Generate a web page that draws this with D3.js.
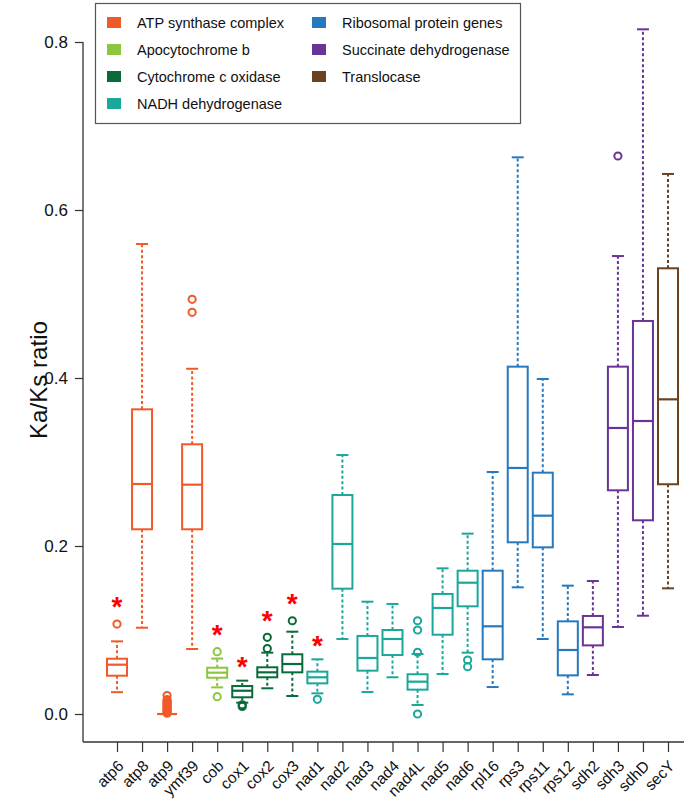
<!DOCTYPE html>
<html><head><meta charset="utf-8">
<script src="https://cdn.jsdelivr.net/npm/d3@7"></script>
<style>body{margin:0;background:#fff}svg{display:block}</style>
</head><body>
<svg id="c" width="685" height="801"></svg>
<script>
const genes = ["atp6","atp8","atp9","ymf39","cob","cox1","cox2","cox3","nad1","nad2","nad3","nad4","nad4L","nad5","nad6","rpl16","rps3","rps11","rps12","sdh2","sdh3","sdhD","secY"];
const geneGroup = [0,0,0,0,1,2,2,2,3,3,3,3,3,3,3,4,4,4,4,5,5,5,6];
const groupNames = ["ATP synthase complex","Apocytochrome b","Cytochrome c oxidase","NADH dehydrogenase","Ribosomal protein genes","Succinate dehydrogenase","Translocase"];
const groupColors = ["#F05A28","#8CC63F","#0A6B3A","#1BA89B","#2779BF","#6A3497","#6B4220"];
const whiskerLow  = [0.026,0.1027,0,0.0774,0.0317,0.0135,0.0306,0.0214,0.0246,0.0893,0.0262,0.0437,0.0107,0.0476,0.073,0.0321,0.1508,0.0893,0.0234,0.0464,0.1036,0.117,0.1496];
const quart1      = [0.0456,0.2199,0,0.2199,0.0432,0.0199,0.0437,0.0496,0.0365,0.1492,0.0516,0.0702,0.029,0.0944,0.1282,0.0651,0.2044,0.1984,0.046,0.0817,0.2663,0.2306,0.2735];
const medians     = [0.0587,0.2738,0,0.273,0.0492,0.0277,0.0496,0.0595,0.0437,0.2024,0.0667,0.0893,0.0385,0.1262,0.1563,0.1044,0.2929,0.2361,0.0762,0.1032,0.3405,0.3488,0.3746];
const quart3      = [0.0658,0.3627,0,0.3211,0.0551,0.0333,0.0556,0.0711,0.0504,0.2607,0.0929,0.1,0.0473,0.1429,0.1706,0.1706,0.4135,0.2873,0.1103,0.1167,0.4135,0.4679,0.5306];
const whiskerHigh = [0.0865,0.5595,0,0.411,0.066,0.0397,0.073,0.098,0.0651,0.3083,0.1337,0.131,0.0714,0.1734,0.2147,0.2881,0.6627,0.3988,0.1528,0.1583,0.5452,0.8151,0.6429];
const outliers = [
  [0.107],
  [],
  [0.022,0.017,0.0155,0.014,0.0125,0.011,0.0095,0.008,0.0065,0.005,0.0035,0.002,0.001],
  [0.4937,0.4782],
  [0.0742,0.0206],
  [0.011,0.009],
  [0.078,0.0913],
  [0.111],
  [0.0175],
  [],[],[],
  [0.111,0.1,0.0734,0.0],
  [],
  [0.0643,0.0563],
  [],[],[],[],[],
  [0.6643],
  [],[]
];
const starGenes  = ["atp6","cob","cox1","cox2","cox3","nad1"];
const starValues = [0.134,0.1008,0.0634,0.1179,0.138,0.0881];
const yTicks = [0,0.2,0.4,0.6,0.8];

const svg = d3.select("#c");
const FONT = "'Liberation Sans', Arial, Helvetica, sans-serif";
const x = d3.scalePoint().domain(genes).range([117,668]);
const y = d3.scaleLinear().domain([0,0.8]).range([714,42]);
const boxW = 20, capW = 12;
const col = i => groupColors[geneGroup[i]];

// axes lines (L-shaped frame)
svg.append("line").attr("x1",83).attr("x2",83).attr("y1",y(0.8)).attr("y2",742).attr("stroke","#333").attr("stroke-width",1.3);
svg.append("line").attr("x1",83).attr("x2",684).attr("y1",742).attr("y2",742).attr("stroke","#333").attr("stroke-width",1.3);

const ya = svg.append("g").attr("transform","translate(83,0)")
  .call(d3.axisLeft(y).tickValues(yTicks).tickFormat(d3.format(".1f")).tickSize(8).tickPadding(7));
ya.select(".domain").remove();
ya.selectAll("line").attr("stroke","#333").attr("stroke-width",1.2);
ya.selectAll("text").attr("font-family",FONT).attr("font-size",17).attr("fill","#111");

const xa = svg.append("g").attr("transform","translate(0,742)")
  .call(d3.axisBottom(x).tickSize(10));
xa.select(".domain").remove();
xa.selectAll("line").attr("stroke","#333").attr("stroke-width",1.2);
xa.selectAll("text").attr("font-family",FONT).attr("font-size",15.5).attr("fill","#111")
  .attr("text-anchor","end").attr("y",0).attr("dy",0)
  .attr("transform","translate(7,25) rotate(-45)");

svg.append("text").attr("transform","translate(47,380) rotate(-90)")
  .attr("text-anchor","middle").attr("font-family","'Liberation Sans Narrow','Arial Narrow','Liberation Sans',Arial,sans-serif")
  .attr("font-size",24).attr("textLength",118).attr("lengthAdjust","spacingAndGlyphs")
  .attr("fill","#111").text("Ka/Ks ratio");

// boxes
const g = svg.append("g");
genes.forEach((gn,i)=>{
  const cx = x(gn), c = col(i);
  const gg = g.append("g");
  gg.append("line").attr("x1",cx).attr("x2",cx).attr("y1",y(quart3[i])).attr("y2",y(whiskerHigh[i]))
    .attr("stroke",c).attr("stroke-width",2).attr("stroke-dasharray","3,2.4");
  gg.append("line").attr("x1",cx).attr("x2",cx).attr("y1",y(quart1[i])).attr("y2",y(whiskerLow[i]))
    .attr("stroke",c).attr("stroke-width",2).attr("stroke-dasharray","3,2.4");
  [whiskerHigh[i],whiskerLow[i]].forEach(v=>{
    gg.append("line").attr("x1",cx-capW/2).attr("x2",cx+capW/2).attr("y1",y(v)).attr("y2",y(v))
      .attr("stroke",c).attr("stroke-width",2);
  });
  gg.append("rect").attr("x",cx-boxW/2).attr("width",boxW)
    .attr("y",y(quart3[i])).attr("height",Math.max(0,y(quart1[i])-y(quart3[i])))
    .attr("fill","white").attr("stroke",c).attr("stroke-width",2);
  gg.append("line").attr("x1",cx-boxW/2).attr("x2",cx+boxW/2).attr("y1",y(medians[i])).attr("y2",y(medians[i]))
    .attr("stroke",c).attr("stroke-width",2.2);
  outliers[i].forEach(v=>{
    gg.append("circle").attr("cx",cx).attr("cy",y(v)).attr("r",3.6)
      .attr("fill","none").attr("stroke",c).attr("stroke-width",2);
  });
});

// stars
starGenes.forEach((gn,k)=>{
  svg.append("text").attr("x",x(gn)).attr("y",y(starValues[k])+15)
    .attr("text-anchor","middle").attr("font-family",FONT).attr("font-weight","bold")
    .attr("font-size",28).attr("fill","#FF0000").text("*");
});

// legend
const lg = svg.append("g");
lg.append("rect").attr("x",95.5).attr("y",3.5).attr("width",425).attr("height",120)
  .attr("fill","white").attr("stroke","#555").attr("stroke-width",1.2);
groupNames.forEach((nm,k)=>{
  const colI = k<4?0:1, row = k<4?k:k-4;
  const lx = colI===0?107:312, ly = 23+row*27;
  lg.append("rect").attr("x",lx).attr("y",ly-6).attr("width",14).attr("height",11).attr("fill",groupColors[k]);
  lg.append("text").attr("x",lx+30).attr("y",ly+5).attr("font-family",FONT).attr("font-size",14.5)
    .attr("fill","#111").text(nm);
});
</script>
</body></html>
